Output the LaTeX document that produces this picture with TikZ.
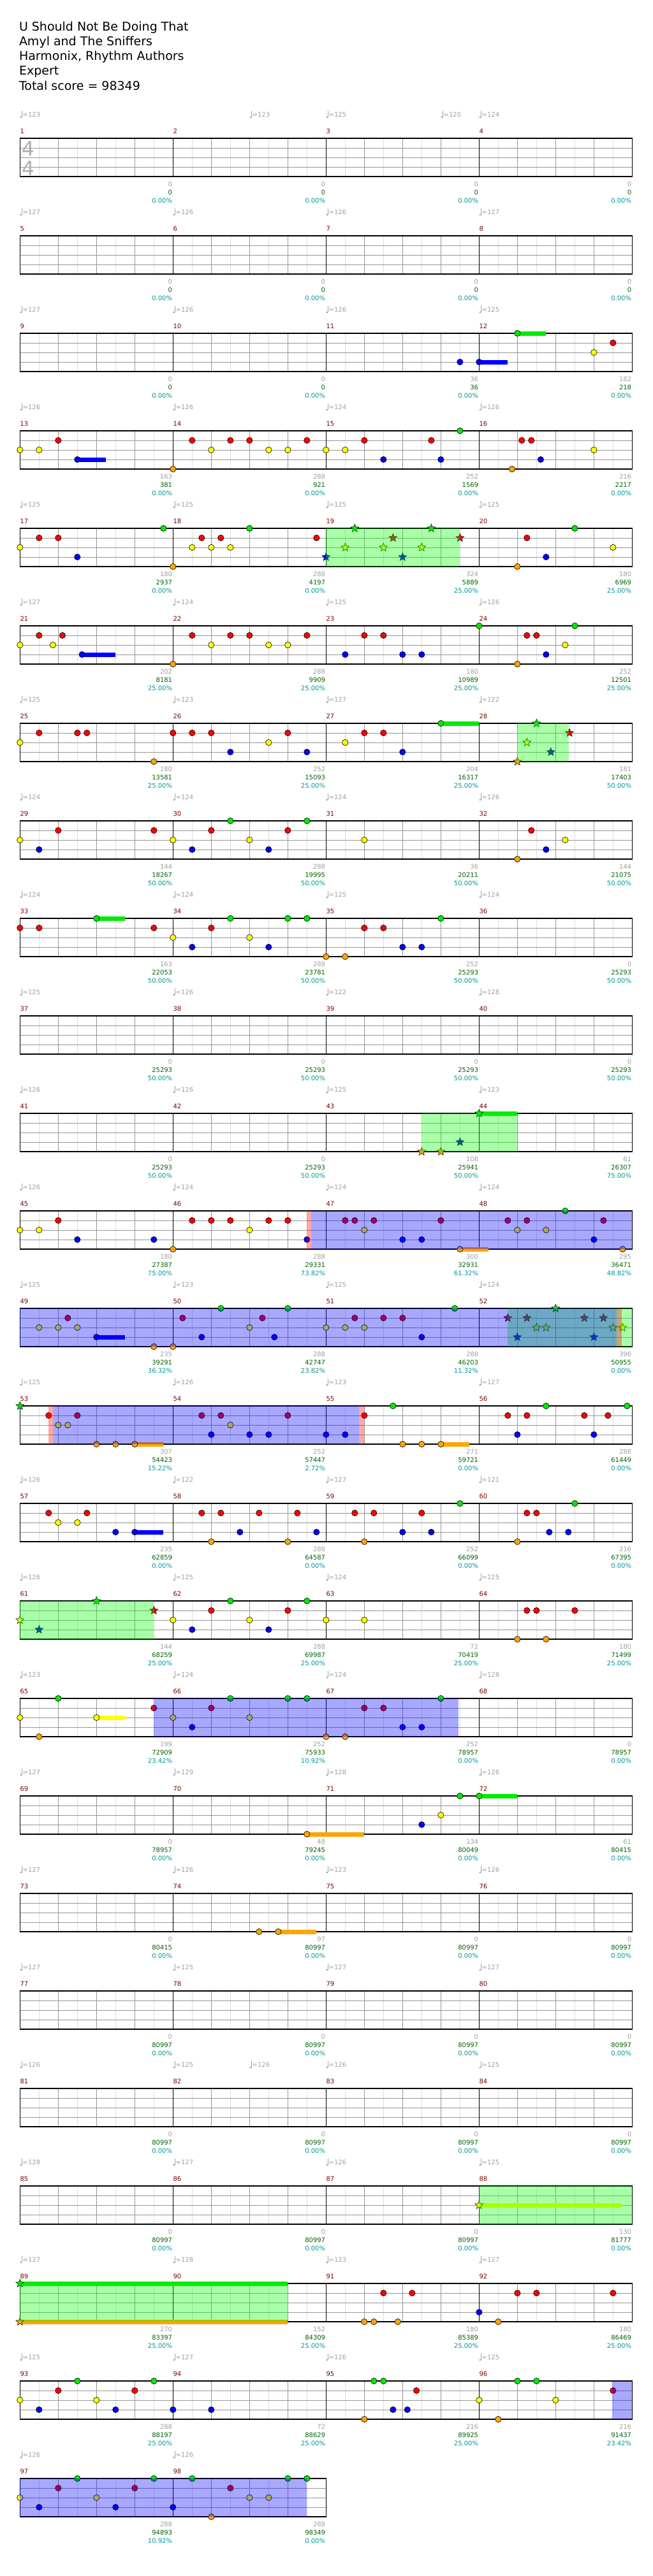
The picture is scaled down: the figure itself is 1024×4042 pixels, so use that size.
\documentclass[tikz,border=0pt]{standalone}
\usepackage{fontspec}
\setmainfont{DejaVu Sans}
\usetikzlibrary{shapes.geometric}

\definecolor{lane0}{RGB}{0,235,0}
\definecolor{lane1}{RGB}{255,0,0}
\definecolor{lane2}{RGB}{255,255,0}
\definecolor{lane3}{RGB}{0,0,255}
\definecolor{lane4}{RGB}{255,165,0}
\definecolor{softgrey}{RGB}{160,160,160}
\definecolor{gridgrey}{RGB}{150,150,150}
\definecolor{faintgrey}{RGB}{222,222,222}
\definecolor{barred}{RGB}{128,0,0}
\definecolor{scoregreen}{RGB}{0,100,0}
\definecolor{scoreteal}{RGB}{0,150,150}

% sixteenth p of a row -> x, lane l of row r -> y (1 unit = 1 px)
\newcommand{\xat}[1]{31.3+15*(#1)}
\newcommand{\yat}[2]{217+153*(#1)+15*(#2)}

% staff of a row with #2 measures
\newcommand{\staffrow}[2]{%
  \pgfmathsetmacro\T{217+153*#1}%
  \pgfmathsetmacro\R{31.3+240*#2}%
  \pgfmathtruncatemacro\N{8*#2-1}%
  \pgfmathtruncatemacro\B{4*#2-1}%
  \pgfmathtruncatemacro\M{#2-1}%
  \foreach \j in {1,3,...,\N} \draw[faintgrey, line width=.8pt] ({31.3+30*\j},\T) -- ++(0,60);
  \foreach \j in {1,...,\B} \draw[gridgrey, line width=.8pt] ({31.3+60*\j},\T) -- ++(0,60);
  \foreach \i in {1,2,3} \draw[gridgrey, line width=1pt] (31.3,{\T+15*\i}) -- (\R,{\T+15*\i});
  \foreach \j in {1,...,\M} \draw[black, line width=.9pt] ({31.3+240*\j},\T) -- ++(0,60);
  \draw[black, line width=1.3pt] (31.3,\T) rectangle (\R,{\T+60});}

\newcommand{\gems}[3]{\foreach \p in {#3} \filldraw[gem, fill=lane#2] ({\xat{\p}},{\yat{#1}{#2}}) circle (4.7);}
\newcommand{\stars}[3]{\foreach \p [count=\i] in {#3} \node[starnote, fill=lane#2] (star-#1-#2-\i) at ({\xat{\p}},{\yat{#1}{#2}}) {};}
\newcommand{\holds}[3]{\foreach \a/\b in {#3} \fill[lane#2] ({\xat{\a}},{\yat{#1}{#2}-3.5}) rectangle ({\xat{\b}},{\yat{#1}{#2}+3.5});}
\newcommand{\zoneband}[4]{\fill[#1] ({\xat{#3}},{\yat{#2}{0}}) rectangle ({\xat{#4}},{\yat{#2}{4}});}
\newcommand{\tempomark}[3]{%
  \pgfmathsetmacro\tx{\xat{#2}}\pgfmathsetmacro\ty{217+153*#1-37}%
  \fill[softgrey] ({\tx+1.6},{\ty+4}) ellipse (1.7 and 1.3);
  \draw[softgrey, line width=.6pt] ({\tx+3.1},{\ty+4}) -- ({\tx+3.1},{\ty-6});
  \node[tempotext] (bpm-#1-#2) at ({\tx+4.2},\ty) {=#3};}

\begin{document}
\begin{tikzpicture}[
    x={(1pt,0)}, y={(0,-1pt)},
    gem/.style={draw=black, line width=.6pt},
    starnote/.style={star, star points=5, star point ratio=2.3, minimum size=13.5pt, inner sep=0pt, draw=black, line width=.5pt},
    odzone/.style={fill=lane3, fill opacity=.34},
    spzone/.style={fill={rgb,255:red,0;green,255;blue,0}, fill opacity=.34},
    pinkzone/.style={fill=red, fill opacity=.34},
    title/.style={anchor=base west, inner sep=0pt, font=\fontsize{19}{23}\selectfont},
    timesig/.style={inner sep=0pt, text=softgrey!85!white, font=\fontsize{31}{31}\selectfont},
    mnum/.style={anchor=west, inner sep=0pt, text=barred, font=\fontsize{10}{12}\selectfont},
    tempotext/.style={anchor=west, inner sep=0pt, text=softgrey, font=\fontsize{10}{12}\selectfont},
    ftgrey/.style={anchor=east, inner sep=0pt, text=softgrey, font=\fontsize{10}{12}\selectfont},
    ftgreen/.style={ftgrey, text=scoregreen},
    ftteal/.style={ftgrey, text=scoreteal}
]
\fill[white] (0,0) rectangle (1024,4042);
\useasboundingbox (0,0) rectangle (1024,4042);

% header
\foreach \t [count=\i] in {U Should Not Be Doing That, Amyl and The Sniffers, {Harmonix, Rhythm Authors}, Expert, Total score = 98349}
  \node[title] (head\i) at (29.8,{48.3+23.2*(\i-1)}) {\t};

% staves
\foreach \r in {0,...,23} {\staffrow{\r}{4}}
\staffrow{24}{2}
\node[timesig] (sigtop) at (44,233.5) {4};
\node[timesig] (sigbot) at (44,264.5) {4};

% tempo marks: row/sixteenth/bpm
\foreach \r/\p/\v in {0/0/123, 0/24/123, 0/32/125, 0/44/120, 0/48/124,
  1/0/127, 1/16/126, 1/32/126, 1/48/127, 2/0/127, 2/16/126, 2/32/126, 2/48/125,
  3/0/126, 3/16/126, 3/32/124, 3/48/126, 4/0/125, 4/16/125, 4/32/125, 4/48/125,
  5/0/127, 5/16/124, 5/32/125, 5/48/126, 6/0/125, 6/16/123, 6/32/127, 6/48/122,
  7/0/124, 7/16/124, 7/32/124, 7/48/126, 8/0/124, 8/16/124, 8/32/125, 8/48/124,
  9/0/125, 9/16/126, 9/32/122, 9/48/128, 10/0/126, 10/16/126, 10/32/125, 10/48/123,
  11/0/126, 11/16/124, 11/32/124, 11/48/124, 12/0/125, 12/16/123, 12/32/125, 12/48/124,
  13/0/125, 13/16/126, 13/32/123, 13/48/127, 14/0/126, 14/16/122, 14/32/127, 14/48/121,
  15/0/126, 15/16/125, 15/32/124, 15/48/125, 16/0/123, 16/16/124, 16/32/124, 16/48/128,
  17/0/127, 17/16/129, 17/32/128, 17/48/126, 18/0/127, 18/16/126, 18/32/123, 18/48/126,
  19/0/127, 19/16/125, 19/32/127, 19/48/127, 20/0/126, 20/16/125, 20/24/126, 20/32/126, 20/48/125,
  21/0/128, 21/16/127, 21/32/126, 21/48/125, 22/0/127, 22/16/128, 22/32/123, 22/48/127,
  23/0/125, 23/16/127, 23/32/126, 23/48/125, 24/0/126, 24/16/126}
  {\tempomark{\r}{\p}{\v}}

% measure numbers and running scores: measure/points/total/percent
\foreach \m/\a/\b/\c in {1/0/0/0.00, 2/0/0/0.00, 3/0/0/0.00, 4/0/0/0.00,
  5/0/0/0.00, 6/0/0/0.00, 7/0/0/0.00, 8/0/0/0.00,
  9/0/0/0.00, 10/0/0/0.00, 11/36/36/0.00, 12/182/218/0.00,
  13/163/381/0.00, 14/288/921/0.00, 15/252/1569/0.00, 16/216/2217/0.00,
  17/180/2937/0.00, 18/288/4197/0.00, 19/324/5889/25.00, 20/180/6969/25.00,
  21/202/8181/25.00, 22/288/9909/25.00, 23/180/10989/25.00, 24/252/12501/25.00,
  25/180/13581/25.00, 26/252/15093/25.00, 27/204/16317/25.00, 28/181/17403/50.00,
  29/144/18267/50.00, 30/288/19995/50.00, 31/36/20211/50.00, 32/144/21075/50.00,
  33/163/22053/50.00, 34/288/23781/50.00, 35/252/25293/50.00, 36/0/25293/50.00,
  37/0/25293/50.00, 38/0/25293/50.00, 39/0/25293/50.00, 40/0/25293/50.00,
  41/0/25293/50.00, 42/0/25293/50.00, 43/108/25941/50.00, 44/61/26307/75.00,
  45/180/27387/75.00, 46/288/29331/73.82, 47/300/32931/61.32, 48/295/36471/48.82,
  49/235/39291/36.32, 50/288/42747/23.82, 51/288/46203/11.32, 52/396/50955/0.00,
  53/307/54423/15.22, 54/252/57447/2.72, 55/271/59721/0.00, 56/288/61449/0.00,
  57/235/62859/0.00, 58/288/64587/0.00, 59/252/66099/0.00, 60/216/67395/0.00,
  61/144/68259/25.00, 62/288/69987/25.00, 63/72/70419/25.00, 64/180/71499/25.00,
  65/199/72909/23.42, 66/252/75933/10.92, 67/252/78957/0.00, 68/0/78957/0.00,
  69/0/78957/0.00, 70/48/79245/0.00, 71/134/80049/0.00, 72/61/80415/0.00,
  73/0/80415/0.00, 74/97/80997/0.00, 75/0/80997/0.00, 76/0/80997/0.00,
  77/0/80997/0.00, 78/0/80997/0.00, 79/0/80997/0.00, 80/0/80997/0.00,
  81/0/80997/0.00, 82/0/80997/0.00, 83/0/80997/0.00, 84/0/80997/0.00,
  85/0/80997/0.00, 86/0/80997/0.00, 87/0/80997/0.00, 88/130/81777/0.00,
  89/270/83397/25.00, 90/152/84309/25.00, 91/180/85389/25.00, 92/180/86469/25.00,
  93/288/88197/25.00, 94/72/88629/25.00, 95/216/89925/25.00, 96/216/91437/23.42,
  97/288/94893/10.92, 98/288/98349/0.00} {
  \pgfmathtruncatemacro\r{(\m-1)/4}
  \pgfmathsetmacro\T{217+153*\r}
  \pgfmathsetmacro\xe{31.3+240*(mod(\m-1,4)+1)}
  \node[mnum] (num\m) at ({\xe-240},{\T-11}) {\m};
  \node[ftgrey] (pts\m) at ({\xe-1},{\T+71.5}) {\a};
  \node[ftgreen] (sum\m) at ({\xe-1},{\T+84.7}) {\b};
  \node[ftteal] (pct\m) at ({\xe-1},{\T+97.8}) {\c\%};
}

% notes: lane 0 green, 1 red, 2 yellow, 3 blue, 4 orange
\holds{2}{0}{52/55} \holds{2}{3}{48/51}
\gems{2}{0}{52} \gems{2}{1}{62} \gems{2}{2}{60} \gems{2}{3}{46,48}

\holds{3}{3}{6/9}
\gems{3}{0}{46} \gems{3}{1}{4,18,22,24,30,36,43,52.46,53.46}
\gems{3}{2}{0,2,20,26,28,32,34,60} \gems{3}{3}{6,38,44,54.44} \gems{3}{4}{16,51.44}

\gems{4}{0}{15,24,58} \gems{4}{1}{2,4,19,21,31,53} \gems{4}{2}{0,18,20,22,62}
\gems{4}{3}{6,55} \gems{4}{4}{16,52}
\stars{4}{0}{35,43} \stars{4}{1}{39,46} \stars{4}{2}{34,38,42} \stars{4}{3}{32,40}

\holds{5}{3}{6.49/9.97}
\gems{5}{0}{48,58} \gems{5}{1}{2,4.44,18,22,24,30,36,38,53,54} \gems{5}{2}{0,3.44,20,26,28,57}
\gems{5}{3}{6.49,34,40,42,55} \gems{5}{4}{16,52}

\holds{6}{0}{44/48}
\gems{6}{0}{44} \gems{6}{1}{2,6,7,16,18,20,28,36,38} \gems{6}{2}{0,26,34}
\gems{6}{3}{22,30,40} \gems{6}{4}{14}
\stars{6}{0}{54} \stars{6}{1}{57.45} \stars{6}{2}{53} \stars{6}{3}{55.5} \stars{6}{4}{52}

\gems{7}{0}{22,30} \gems{7}{1}{4,14,20,28,53.46} \gems{7}{2}{0,16,24,36,57}
\gems{7}{3}{2,18,26,55} \gems{7}{4}{52}

\holds{8}{0}{8/11}
\gems{8}{0}{8,22,28,30,44} \gems{8}{1}{0,2,14,20,36,38} \gems{8}{2}{16,24}
\gems{8}{3}{18,26,40,42} \gems{8}{4}{32,34}

\holds{10}{0}{48/52}
\stars{10}{0}{48} \stars{10}{3}{46} \stars{10}{4}{42,44}

\holds{11}{4}{46/49}
\gems{11}{0}{57} \gems{11}{1}{4,18,20,22,26,28,34,35,37,44,51,53,61} \gems{11}{2}{0,2,24,36,52,55}
\gems{11}{3}{6,14,30,40,42,60} \gems{11}{4}{16,46,63}

\holds{12}{3}{8/11}
\gems{12}{0}{21,28,45.45} \gems{12}{1}{5,17,25.34,35,38,40} \gems{12}{2}{2,4,6,24,32,34,36}
\gems{12}{3}{8,19,26.6,42} \gems{12}{4}{14,16}
\stars{12}{0}{56} \stars{12}{1}{51,53,59,61} \stars{12}{2}{54,55,62,63} \stars{12}{3}{52,60}

\holds{13}{4}{12/15,44/47}
\stars{13}{0}{0}
\gems{13}{0}{39,55,63.47} \gems{13}{1}{3,6,19,21,28,36,51,53,59,61.47} \gems{13}{2}{4,5,22}
\gems{13}{3}{20,24,26,32,34,52,60} \gems{13}{4}{8,10,12,40,42,44}

\holds{14}{3}{12/15}
\gems{14}{0}{46,58} \gems{14}{1}{3,7,19,21,25,29,35,37,42,53,54} \gems{14}{2}{4,6}
\gems{14}{3}{10,12,23,31,40,43,55.33,57.33} \gems{14}{4}{20,28,36,52}

\gems{15}{0}{22,30} \gems{15}{1}{20,28,53,54,58} \gems{15}{2}{16,24,32,36}
\gems{15}{3}{18,26} \gems{15}{4}{52,55}
\stars{15}{0}{8} \stars{15}{1}{14} \stars{15}{2}{0} \stars{15}{3}{2}

\holds{16}{2}{8/11}
\gems{16}{0}{4,22,28,30,44} \gems{16}{1}{14,20,36,38} \gems{16}{2}{0,8,16,24}
\gems{16}{3}{18,40,42} \gems{16}{4}{2,32,34}

\holds{17}{4}{30/36} \holds{17}{0}{48/52}
\gems{17}{0}{46,48} \gems{17}{2}{44} \gems{17}{3}{42} \gems{17}{4}{30}

\holds{18}{4}{27/31}
\gems{18}{4}{25,27}

\holds{21}{2}{48/62.9}
\stars{21}{2}{48}

\holds{22}{0}{0/28} \holds{22}{4}{0/28}
\stars{22}{0}{0} \stars{22}{4}{0}
\gems{22}{1}{38,41,52,54,62} \gems{22}{3}{48} \gems{22}{4}{36,37,39.5,50}

\gems{23}{0}{6,14,37,38,52,54} \gems{23}{1}{4,12,41.45,62} \gems{23}{2}{0,8,48,56}
\gems{23}{3}{2,10,16,20,39,40.5} \gems{23}{4}{36,50}

\gems{24}{0}{6,14,18,28,30} \gems{24}{1}{4,12,22} \gems{24}{2}{0,8,24,26}
\gems{24}{3}{2,10,16} \gems{24}{4}{20}

% star power and overdrive bands, laid over the notes
\zoneband{spzone}{4}{32}{46}
\zoneband{spzone}{6}{52}{57.4}
\zoneband{spzone}{10}{42}{52}
\zoneband{pinkzone}{11}{30}{30.44} \zoneband{odzone}{11}{30.44}{64}
\zoneband{spzone}{12}{51}{64} \zoneband{odzone}{12}{0}{62.4} \zoneband{pinkzone}{12}{62.4}{62.9}
\zoneband{pinkzone}{13}{3}{3.44} \zoneband{odzone}{13}{3.44}{35.44} \zoneband{pinkzone}{13}{35.44}{36}
\zoneband{spzone}{15}{0}{14}
\zoneband{odzone}{16}{14}{45.84}
\zoneband{spzone}{21}{48}{64}
\zoneband{spzone}{22}{0}{28}
\zoneband{odzone}{23}{61.9}{64}
\zoneband{odzone}{24}{0}{30}

\end{tikzpicture}
\end{document}
